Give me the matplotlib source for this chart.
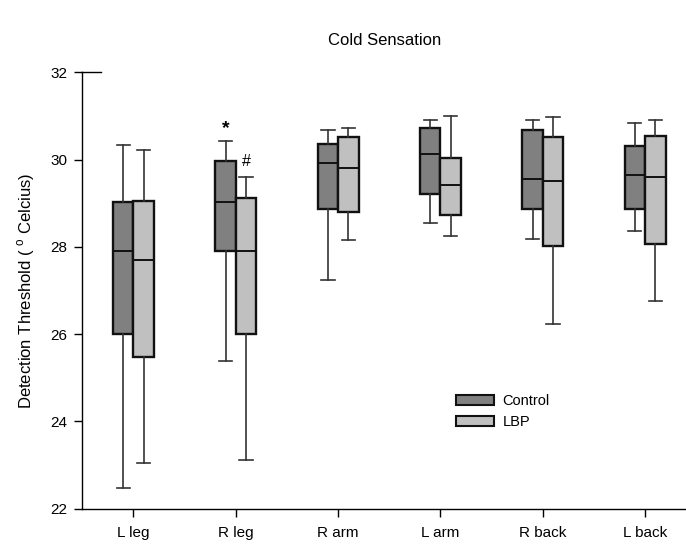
import matplotlib

matplotlib.use("Agg")
import matplotlib.pyplot as plt
from matplotlib.patches import Patch

plt.rcParams["font.family"] = ["Liberation Sans", "DejaVu Sans"]

# regioes e estatisticas (limiar em graus C)
regioes = ["L leg", "R leg", "R arm", "L arm", "R back", "L back"]

controle_min = [22.48, 25.39, 27.25, 28.55, 28.19, 28.36]
controle_q1 = [26.00, 27.91, 28.87, 29.22, 28.87, 28.87]
controle_med = [27.91, 29.02, 29.92, 30.13, 29.56, 29.66]
controle_q3 = [29.02, 29.96, 30.37, 30.72, 30.67, 30.31]
controle_max = [30.34, 30.43, 30.67, 30.92, 30.92, 30.83]

lbp_min = [23.04, 23.12, 28.16, 28.25, 26.23, 26.77]
lbp_q1 = [25.48, 26.01, 28.80, 28.74, 28.02, 28.06]
lbp_med = [27.71, 27.91, 29.81, 29.42, 29.52, 29.61]
lbp_q3 = [29.05, 29.13, 30.51, 30.04, 30.51, 30.54]
lbp_max = [30.23, 29.61, 30.72, 31.00, 30.97, 30.92]

# marcas de significancia: (indice da regiao, grupo, simbolo)
marcas = [(1, "controle", "*"), (1, "lbp", "#")]

COR_CONTROLE = "#808080"
COR_LBP = "#c0c0c0"


def _estatisticas(minimos, q1s, medianas, q3s, maximos):
    return [
        dict(whislo=a, q1=b, med=c, q3=d, whishi=e, fliers=[])
        for a, b, c, d, e in zip(minimos, q1s, medianas, q3s, maximos)
    ]


def _desenhar(ax, stats, posicoes, cor):
    ax.bxp(
        stats,
        positions=posicoes,
        widths=0.2,
        capwidths=0.13,
        patch_artist=True,
        showfliers=False,
        boxprops=dict(facecolor=cor, edgecolor="#111111", linewidth=1.7),
        medianprops=dict(color="#111111", linewidth=1.4),
        whiskerprops=dict(color="#333333", linewidth=1.2),
        capprops=dict(color="#333333", linewidth=1.2),
    )


fig = plt.figure(figsize=(6.86, 5.46), dpi=100)
ax = fig.add_axes([0.12, 0.0683, 0.88, 0.799])

x = list(range(1, len(regioes) + 1))
pos_controle = [p - 0.1 for p in x]
pos_lbp = [p + 0.1 for p in x]

stats_controle = _estatisticas(controle_min, controle_q1, controle_med, controle_q3, controle_max)
stats_lbp = _estatisticas(lbp_min, lbp_q1, lbp_med, lbp_q3, lbp_max)

_desenhar(ax, stats_controle, pos_controle, COR_CONTROLE)
_desenhar(ax, stats_lbp, pos_lbp, COR_LBP)

for indice, grupo, simbolo in marcas:
    if grupo == "controle":
        xpos, ytopo = pos_controle[indice], controle_max[indice]
        ax.text(xpos, ytopo + 0.1, simbolo, ha="center", va="bottom",
                fontsize=14, fontweight="bold")
    else:
        xpos, ytopo = pos_lbp[indice], lbp_max[indice]
        ax.text(xpos, ytopo + 0.18, simbolo, ha="center", va="bottom", fontsize=11.5)

ax.set_xlim(0.5, 6.4)
ax.set_ylim(22, 32)
ax.set_xticks(x)
ax.set_xticklabels(regioes)
ax.set_yticks([22, 24, 26, 28, 30, 32])

ax.spines["right"].set_visible(False)
ax.spines["top"].set_bounds(0.5, 0.68)
for lado in ["left", "bottom", "top"]:
    ax.spines[lado].set_linewidth(1.0)

ax.tick_params(axis="both", direction="out", length=5.5, width=1.0, labelsize=11)
ax.tick_params(axis="x", pad=7)
ax.tick_params(axis="y", pad=5)

ax.set_ylabel(r"Detection Threshold ( $^\mathregular{o}$ Celcius)", fontsize=12, labelpad=10)
ax.set_title("Cold Sensation", fontsize=12, pad=20)

legenda = [
    Patch(facecolor=COR_CONTROLE, edgecolor="#111111", linewidth=1.5, label="Control"),
    Patch(facecolor=COR_LBP, edgecolor="#111111", linewidth=1.5, label="LBP"),
]
ax.legend(
    handles=legenda,
    loc="upper left",
    bbox_to_anchor=(0.619, 0.263),
    frameon=False,
    fontsize=10.5,
    handlelength=2.6,
    handleheight=0.62,
    handletextpad=0.6,
    labelspacing=0.5,
    borderpad=0,
    borderaxespad=0,
)

plt.savefig("out.png", dpi=100)
